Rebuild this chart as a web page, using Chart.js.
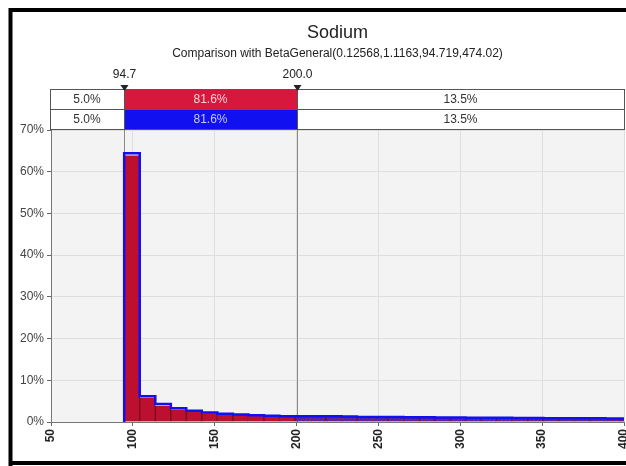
<!DOCTYPE html>
<html>
<head>
<meta charset="utf-8">
<script src="https://cdn.jsdelivr.net/npm/chart.js@4/dist/chart.umd.min.js"></script>
<style>
  html, body { margin: 0; padding: 0; background: #fff; }
  #wrap { width: 626px; height: 466px; }
</style>
</head>
<body>
<div id="wrap"><canvas id="chart" width="626" height="466"></canvas></div>
<script>
// bin edges of the histogram
const binEdges = [94.7, 104.2, 113.7, 123.2, 132.6, 142.1, 151.6, 161.1, 170.6, 180.1, 189.5,
    199.0, 208.5, 218.0, 227.5, 236.9, 246.4, 255.9, 265.4, 274.9, 284.4, 293.8, 303.3,
    312.8, 322.3, 331.8, 341.3, 350.7, 360.2, 369.7, 379.2, 388.7, 398.2, 407.6];

// observed (red bars), percent per bin
const observedPct = [63.9, 5.8, 3.9, 3.0, 2.5, 2.1, 1.9, 1.7, 1.5, 1.4, 1.3,
    1.3, 1.3, 1.3, 1.25, 1.2, 1.15, 1.15, 1.1, 1.1, 1.05, 1.0, 1.0,
    0.95, 0.95, 0.9, 0.9, 0.9, 0.85, 0.85, 0.85, 0.85, 0.8];

// fitted BetaGeneral (blue outline), percent per bin
const fitPct = [64.4, 6.2, 4.3, 3.3, 2.7, 2.3, 2.0, 1.8, 1.6, 1.5, 1.4,
    1.4, 1.4, 1.4, 1.3, 1.2, 1.2, 1.2, 1.15, 1.15, 1.1, 1.05, 1.0,
    1.0, 1.0, 0.95, 0.95, 0.9, 0.9, 0.9, 0.9, 0.85, 0.85];

const delimiters = [94.7, 200.0];
const bandObserved = ['5.0%', '81.6%', '13.5%'];
const bandFit = ['5.0%', '81.6%', '13.5%'];

const xTicks = [50, 100, 150, 200, 250, 300, 350, 400];
const yTicks = [0, 10, 20, 30, 40, 50, 60, 70];

Chart.defaults.font.family = '"Liberation Sans Narrow", "Liberation Sans", Arial, sans-serif';

const RED = '#d8173c';
const BAR_RED = '#bd1030';
const BLUE = '#1010f0';

// hatch used for bars outside the delimiters
function makeHatch() {
    const c = document.createElement('canvas');
    c.width = 4; c.height = 4;
    const g = c.getContext('2d');
    g.fillStyle = '#b8183a';
    g.fillRect(0, 0, 4, 4);
    g.strokeStyle = '#2a2ad8';
    g.lineWidth = 1.6;
    g.beginPath();
    g.moveTo(0, 4); g.lineTo(4, 0);
    g.moveTo(-1, 1); g.lineTo(1, -1);
    g.moveTo(3, 5); g.lineTo(5, 3);
    g.stroke();
    return g.createPattern(c, 'repeat');
}
const hatch = makeHatch();

const barPoints = observedPct.map((v, i) => ({x: (binEdges[i] + binEdges[i + 1]) / 2, y: v}));

const fitPoints = [{x: binEdges[0], y: 0}];
fitPct.forEach((v, i) => fitPoints.push({x: binEdges[i], y: v}));
fitPoints.push({x: binEdges[fitPct.length], y: fitPct[fitPct.length - 1]});

const plotBackground = {
    id: 'plotBackground',
    beforeDraw(chart) {
        const {ctx, chartArea: a} = chart;
        ctx.save();
        ctx.fillStyle = '#f3f3f3';
        ctx.fillRect(a.left, a.top, a.right - a.left, a.bottom - a.top);
        ctx.restore();
    }
};

const markerLines = {
    id: 'markerLines',
    beforeDatasetsDraw(chart) {
        const {ctx, chartArea: a, scales: {x}} = chart;
        ctx.save();
        ctx.strokeStyle = '#8a8a8a';
        ctx.lineWidth = 1;
        delimiters.forEach(d => {
            const px = Math.round(x.getPixelForValue(d)) + 0.5;
            ctx.beginPath();
            ctx.moveTo(px, 89);
            ctx.lineTo(px, a.bottom);
            ctx.stroke();
        });
        ctx.restore();
    }
};

const bandTable = {
    id: 'bandTable',
    afterDraw(chart) {
        const {ctx, scales: {x}} = chart;
        const left = 50, right = 624;
        const xs = [left, Math.round(x.getPixelForValue(delimiters[0])),
            Math.round(x.getPixelForValue(delimiters[1])), right];
        const rows = [{top: 89, fill: RED, labels: bandObserved},
            {top: 109, fill: BLUE, labels: bandFit}];
        ctx.save();
        ctx.font = '12px ' + Chart.defaults.font.family;
        ctx.textAlign = 'center';
        ctx.textBaseline = 'middle';
        rows.forEach(r => {
            for (let i = 0; i < 3; i++) {
                ctx.fillStyle = i === 1 ? r.fill : '#ffffff';
                ctx.fillRect(xs[i], r.top, xs[i + 1] - xs[i], 20);
                ctx.fillStyle = i === 1 ? '#ffd0dc' : '#333333';
                if (i === 1 && r.fill === BLUE) ctx.fillStyle = '#c8c8ff';
                ctx.fillText(r.labels[i], (xs[i] + xs[i + 1]) / 2, r.top + 11);
            }
        });
        ctx.strokeStyle = '#555';
        ctx.lineWidth = 1;
        ctx.strokeRect(left + 0.5, 89.5, right - left, 40);
        ctx.beginPath();
        ctx.moveTo(left, 109.5); ctx.lineTo(right, 109.5);
        [xs[1], xs[2]].forEach(px => { ctx.moveTo(px + 0.5, 89); ctx.lineTo(px + 0.5, 129); });
        ctx.stroke();
        // delimiter markers and values
        ctx.fillStyle = '#222';
        ctx.textBaseline = 'alphabetic';
        delimiters.forEach((d, i) => {
            const px = xs[i + 1] + 0.5;
            ctx.beginPath();
            ctx.moveTo(px - 4, 85); ctx.lineTo(px + 4, 85); ctx.lineTo(px, 91);
            ctx.closePath();
            ctx.fill();
            ctx.fillText(d.toFixed(1), px, 78);
        });
        // outer frame
        ctx.strokeStyle = '#000';
        ctx.lineWidth = 4;
        ctx.beginPath();
        ctx.moveTo(10.5, 466); ctx.lineTo(10.5, 10); ctx.lineTo(626, 10);
        ctx.moveTo(10, 463); ctx.lineTo(626, 463);
        ctx.stroke();
        ctx.restore();
    }
};

new Chart(document.getElementById('chart'), {
    type: 'bar',
    data: {
        datasets: [
            {
                type: 'line',
                label: 'Fit',
                data: fitPoints,
                stepped: 'before',
                borderColor: BLUE,
                borderWidth: 2.5,
                pointRadius: 0,
                fill: false,
                order: 0
            },
            {
                label: 'Sodium',
                data: barPoints,
                backgroundColor: ctx => (barPoints[ctx.dataIndex] && barPoints[ctx.dataIndex].x > 200 ? hatch : BAR_RED),
                borderColor: '#7e0a1e',
                borderWidth: {left: 1, right: 1, top: 0, bottom: 0},
                borderSkipped: false,
                barPercentage: 1,
                categoryPercentage: 1,
                order: 1
            }
        ]
    },
    options: {
        responsive: false,
        animation: false,
        layout: {padding: {top: 10, left: 0, right: 2, bottom: 0}},
        plugins: {
            legend: {display: false},
            tooltip: {enabled: false},
            title: {
                display: true,
                text: 'Sodium',
                fullSize: false,
                color: '#222',
                font: {size: 18, weight: 'normal'},
                padding: {top: 12, bottom: 2}
            },
            subtitle: {
                display: true,
                text: 'Comparison with BetaGeneral(0.12568,1.1163,94.719,474.02)',
                fullSize: false,
                color: '#222',
                font: {size: 12},
                padding: {top: 1, bottom: 69}
            }
        },
        scales: {
            x: {
                type: 'linear',
                min: 50,
                max: 400,
                offset: false,
                afterFit: s => { s.height = 44; s.paddingLeft = 0; s.paddingRight = 0; },
                afterBuildTicks: s => { s.ticks = xTicks.map(v => ({value: v})); },
                ticks: {
                    minRotation: 90,
                    maxRotation: 90,
                    padding: 3,
                    color: '#222',
                    font: {size: 12, weight: 'bold'},
                    autoSkip: false
                },
                grid: {color: '#dedede', tickColor: '#666', tickLength: 4, offset: false},
                border: {color: '#777'}
            },
            y: {
                min: 0,
                max: 70,
                afterFit: s => { s.width = 51; s.paddingTop = 0; s.paddingBottom = 0; },
                afterBuildTicks: s => { s.ticks = yTicks.map(v => ({value: v})); },
                ticks: {
                    padding: 3,
                    color: '#444',
                    font: {size: 12},
                    callback: v => v + '%'
                },
                grid: {color: '#dedede', tickColor: '#666', tickLength: 4},
                border: {color: '#777'}
            }
        }
    },
    plugins: [plotBackground, markerLines, bandTable]
});
</script>
</body>
</html>
